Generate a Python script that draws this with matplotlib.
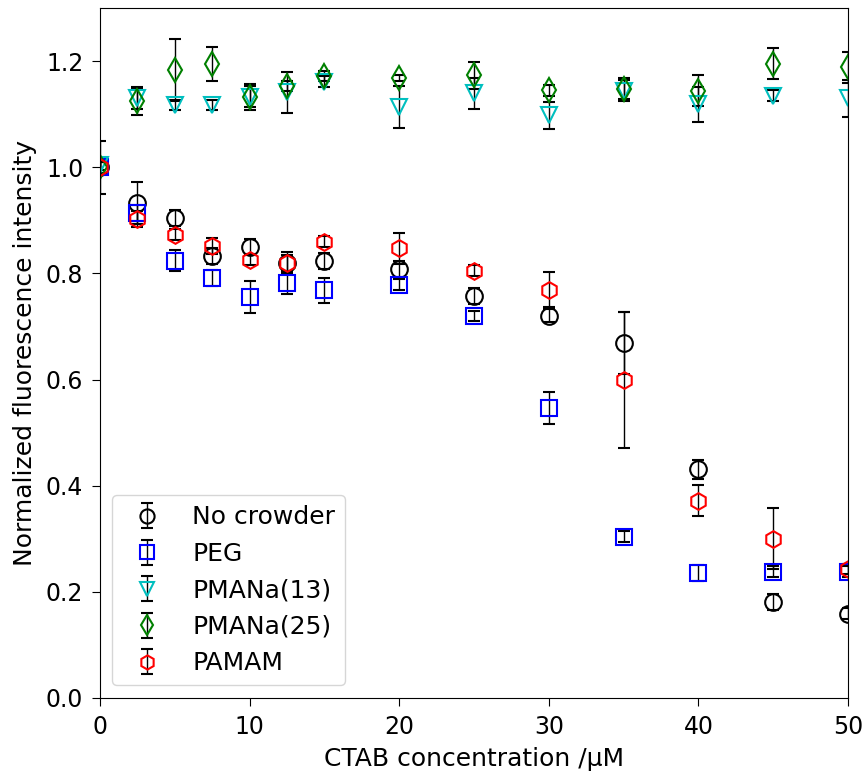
import numpy as np
import matplotlib
matplotlib.use("Agg")
import matplotlib.pyplot as plt

plt.rcParams["font.family"] = ["DejaVu Sans"]
plt.rcParams["font.size"] = 18

# CTAB 浓度 (µM)
ctab = [0, 2.5, 5, 7.5, 10, 12.5, 15, 20, 25, 30, 35, 40, 45, 50]

# 各组荧光强度及误差
no_crowder = [1.00, 0.933, 0.905, 0.833, 0.850, 0.820, 0.824, 0.809, 0.758, 0.720, 0.669, 0.431, 0.181, 0.159]
no_crowder_err = [0.05, 0.04, 0.015, 0.015, 0.015, 0.02, 0.015, 0.015, 0.015, 0.012, 0.058, 0.018, 0.015, 0.01]

peg = [1.00, 0.913, 0.824, 0.791, 0.756, 0.782, 0.768, 0.779, 0.720, 0.546, 0.304, 0.236, 0.238, 0.238]
peg_err = [0.01, 0.015, 0.02, 0.015, 0.03, 0.02, 0.024, 0.01, 0.01, 0.03, 0.01, 0.015, 0.01, 0.01]

pmana13 = [1.005, 1.130, 1.117, 1.117, 1.133, 1.141, 1.161, 1.114, 1.139, 1.098, 1.144, 1.119, 1.135, 1.130]
pmana13_err = [0.01, 0.02, 0.01, 0.01, 0.02, 0.038, 0.01, 0.04, 0.03, 0.025, 0.02, 0.033, 0.01, 0.035]

pmana25 = [1.00, 1.125, 1.183, 1.195, 1.132, 1.153, 1.172, 1.168, 1.173, 1.145, 1.148, 1.144, 1.195, 1.188]
pmana25_err = [0.01, 0.026, 0.058, 0.032, 0.025, 0.01, 0.01, 0.006, 0.025, 0.01, 0.02, 0.029, 0.029, 0.03]

pamam = [1.00, 0.903, 0.873, 0.852, 0.826, 0.820, 0.860, 0.847, 0.805, 0.769, 0.599, 0.372, 0.300, 0.243]
pamam_err = [0.01, 0.015, 0.01, 0.015, 0.01, 0.015, 0.01, 0.03, 0.01, 0.033, 0.128, 0.03, 0.057, 0.01]

series = [
    (no_crowder, no_crowder_err, "o", "k", "No crowder"),
    (peg, peg_err, "s", "b", "PEG"),
    (pmana13, pmana13_err, "v", "c", "PMANa(13)"),
    (pmana25, pmana25_err, "d", "g", "PMANa(25)"),
    (pamam, pamam_err, "h", "r", "PAMAM"),
]

fig = plt.figure(figsize=(8.64, 7.72), dpi=100)
ax = fig.add_axes([0.1157, 0.0959, 0.8658, 0.8937])

for y, err, m, c, lab in series:
    ax.errorbar(ctab, y, yerr=err, fmt=m, mfc="none", mec=c, ms=12, mew=1.5,
                ecolor="k", elinewidth=1, capsize=4.5, capthick=1.5, label=lab)

ax.set_xlim(0, 50)
ax.set_ylim(0, 1.3)
ax.set_xticks(np.arange(0, 51, 10))
ax.set_yticks(np.arange(0, 1.21, 0.2))
ax.tick_params(length=5.5, pad=6.5, labelsize=17)
ax.set_xlabel("CTAB concentration /μM", labelpad=6)
ax.set_ylabel("Normalized fluorescence intensity", labelpad=6)
ax.legend(loc="lower left", frameon=True, markerscale=0.85, labelspacing=0.5)

fig.savefig("out.png", dpi=100)
